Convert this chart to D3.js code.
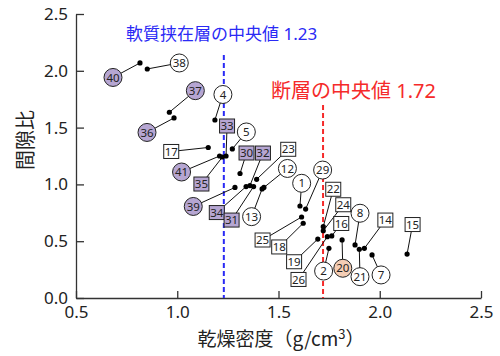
<!DOCTYPE html>
<html>
<head>
<meta charset="utf-8">
<script src="https://cdn.jsdelivr.net/npm/d3@7"></script>
<style>
  html, body { margin: 0; padding: 0; background: #fff; }
  svg { display: block; }
  text { font-family: "Noto Sans", "Noto Sans CJK JP", sans-serif; }
</style>
</head>
<body>
<svg id="chart" width="500" height="356"></svg>
<script>
// Sample numbers
const sampleId = [40, 38, 37, 36, 4, 17, 5, 41, 35, 33, 30, 32, 23, 12, 13, 39, 34, 31,
                  1, 29, 25, 18, 19, 22, 24, 26, 16, 2, 20, 8, 21, 14, 7, 15];
// Dry density (g/cm3)
const dryDensity = [0.816, 0.852, 0.961, 0.984, 1.186, 1.153, 1.272, 1.209, 1.223, 1.241, 1.310, 1.359,
                    1.392, 1.428, 1.419, 1.285, 1.340, 1.377, 1.606, 1.634, 1.614, 1.622, 1.694, 1.721,
                    1.721, 1.741, 1.763, 1.749, 1.814, 1.878, 1.899, 1.924, 1.962, 2.135];
// Void ratio
const voidRatio = [2.069, 2.016, 1.635, 1.585, 1.567, 1.325, 1.312, 1.250, 1.241, 1.250, 1.096, 0.990,
                   1.045, 0.973, 0.960, 0.973, 0.981, 0.981, 0.810, 0.783, 0.713, 0.658, 0.519, 0.628,
                   0.592, 0.540, 0.546, 0.437, 0.511, 0.467, 0.429, 0.437, 0.379, 0.387];
// Zone: soft = 軟質挟在層, fault = 断層, other
const zone = ["soft", "fault", "soft", "soft", "fault", "fault", "fault", "soft", "soft", "soft", "soft", "soft",
              "fault", "fault", "fault", "soft", "soft", "soft", "fault", "fault", "fault", "fault", "fault", "fault",
              "fault", "fault", "fault", "fault", "other", "fault", "fault", "fault", "fault", "fault"];
// Sampling group (drawn as circle or square tag)
const group = ["A", "A", "A", "A", "A", "B", "A", "A", "B", "B", "B", "B",
               "B", "A", "A", "A", "B", "B", "A", "A", "B", "B", "B", "B",
               "B", "B", "B", "A", "A", "A", "A", "B", "A", "B"];
// Median dry density per zone
const medianLabels = ["軟質挟在層の中央値", "断層の中央値"];
const medianValues = [1.23, 1.72];

// Tick values
const xTicks = [0.5, 1.0, 1.5, 2.0, 2.5];
const yTicks = [0.0, 0.5, 1.0, 1.5, 2.0, 2.5];

// Tag placement relative to each point (px)
const tagOffset = [[-27, 14.5], [32, -6], [26, -21.6], [-27, 14.5], [8, -25.5], [-37, 4], [14, -17], [-38, 16],
                   [-21, 27], [1, -30], [6.5, -20.5], [13, -32.5], [31.6, -30], [23.5, -19], [-10.5, 27.7],
                   [-41.7, 19], [-29.3, 26], [-22, 33.5], [1.7, -22.7], [17, -39], [-39, 23], [-24, 23.7],
                   [-23.7, 22.7], [10, -37.4], [20, -26], [-28.8, 42.8], [9.5, -12.5], [-5.3, 22.7],
                   [0.7, 28.3], [5, -31.7], [0.7, 27.4], [21, -28.3], [9, 20], [5.5, -29.5]];

const svg = d3.select("#chart");
const x = d3.scaleLinear().domain([0.5, 2.5]).range([76, 481]);
const y = d3.scaleLinear().domain([0, 2.5]).range([298, 14]);

const zoneFill = d3.scaleOrdinal().domain(["soft", "fault", "other"]).range(["#b6a6d2", "#ffffff", "#f5ceb5"]);
const axisColor = "#333";

// Axes with inward ticks
const xAxis = svg.append("g").attr("transform", "translate(0,298)")
  .call(d3.axisBottom(x).tickValues(xTicks).tickFormat(d3.format(".1f"))
    .tickSizeInner(-7).tickSizeOuter(0).tickPadding(8));
const yAxis = svg.append("g").attr("transform", "translate(76,0)")
  .call(d3.axisLeft(y).tickValues(yTicks).tickFormat(d3.format(".1f"))
    .tickSizeInner(-8).tickSizeOuter(0).tickPadding(8));
[xAxis, yAxis].forEach(g => {
  g.select(".domain").attr("stroke", axisColor).attr("stroke-width", 1.3);
  g.selectAll(".tick line").attr("stroke", axisColor).attr("stroke-width", 1.3);
  g.selectAll(".tick text").attr("fill", "#222").style("font-size", "17px");
});

// Axis titles
svg.append("text")
  .attr("transform", "translate(33,140) rotate(-90)")
  .attr("text-anchor", "middle")
  .style("font-size", "20px").attr("fill", "#222")
  .style("font-family", "'Noto Sans CJK JP', sans-serif")
  .text("間隙比");

const xt = svg.append("text")
  .attr("x", 281).attr("y", 346)
  .attr("text-anchor", "middle")
  .style("font-size", "19px").attr("fill", "#222")
  .style("font-family", "'Noto Sans CJK JP', sans-serif");
xt.append("tspan").text("乾燥密度（g/cm");
xt.append("tspan").attr("dy", -7).style("font-size", "13px").text("3");
xt.append("tspan").attr("dy", 7).text("）");

// Median lines and captions
const medianColors = ["#2a2af5", "#f52a2a"];
const medianTop = [2.14, 1.7];
const captionPos = [[126, 40, 17], [271, 98, 20]];
medianValues.forEach((v, i) => {
  svg.append("line")
    .attr("x1", x(v)).attr("x2", x(v))
    .attr("y1", y(medianTop[i])).attr("y2", y(0))
    .attr("stroke", medianColors[i]).attr("stroke-width", 2)
    .attr("stroke-dasharray", "5,3");
  svg.append("text")
    .attr("x", captionPos[i][0]).attr("y", captionPos[i][1])
    .style("font-size", captionPos[i][2] + "px")
    .attr("fill", medianColors[i])
    .text(medianLabels[i] + " " + d3.format(".2f")(v));
});

const pts = sampleId.map((id, i) => ({
  id, dx: dryDensity[i], e: voidRatio[i], zone: zone[i], group: group[i],
  ox: tagOffset[i][0], oy: tagOffset[i][1]
}));

// Leader lines
svg.append("g").selectAll("line").data(pts).join("line")
  .attr("x1", d => x(d.dx)).attr("y1", d => y(d.e))
  .attr("x2", d => x(d.dx) + d.ox).attr("y2", d => y(d.e) + d.oy)
  .attr("stroke", "#111").attr("stroke-width", 1);

// Points
svg.append("g").selectAll("circle").data(pts).join("circle")
  .attr("cx", d => x(d.dx)).attr("cy", d => y(d.e)).attr("r", 2.6)
  .attr("fill", "#000");

// Tags
const tags = svg.append("g").selectAll("g").data(pts).join("g")
  .attr("transform", d => `translate(${x(d.dx) + d.ox},${y(d.e) + d.oy})`);
tags.filter(d => d.group === "A").append("circle")
  .attr("r", 9).attr("fill", d => zoneFill(d.zone))
  .attr("stroke", "#222").attr("stroke-width", 1);
tags.filter(d => d.group === "B").append("rect")
  .attr("x", -7.5).attr("y", -7).attr("width", 15).attr("height", 14)
  .attr("fill", d => zoneFill(d.zone))
  .attr("stroke", "#222").attr("stroke-width", 1);
tags.append("text")
  .attr("text-anchor", "middle").attr("dy", "0.36em")
  .style("font-size", "11.5px").attr("fill", "#222")
  .text(d => d.id);
</script>
</body>
</html>
